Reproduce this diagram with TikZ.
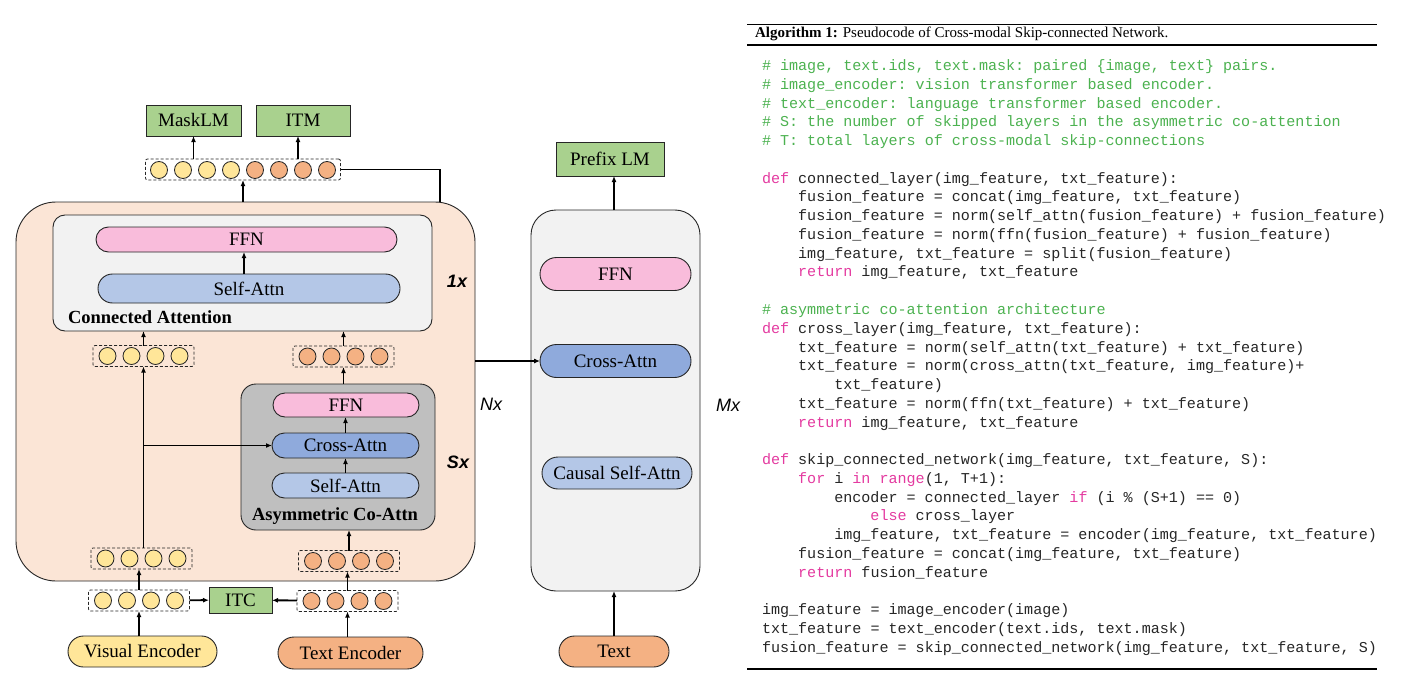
\documentclass[tikz,border=0pt]{standalone}
\usepackage{fontspec}
\setmainfont{Liberation Serif}
\setmonofont{Liberation Mono}
\newfontfamily\labelsans{Liberation Sans}
\usetikzlibrary{arrows.meta,shapes.misc}

\definecolor{peach}{HTML}{FBE5D6}
\definecolor{panel}{HTML}{F2F2F2}
\definecolor{coattn}{HTML}{BFBFBF}
\definecolor{ffnpink}{HTML}{F9BCDB}
\definecolor{selfblue}{HTML}{B4C7E7}
\definecolor{crossblue}{HTML}{8FAADC}
\definecolor{headgreen}{HTML}{A9D18E}
\definecolor{imgtok}{HTML}{FFE699}
\definecolor{txttok}{HTML}{F4B183}
\definecolor{edge}{HTML}{262626}
\definecolor{cmtgreen}{RGB}{76,178,80}
\definecolor{kwpink}{RGB}{228,58,160}

\newcommand{\kw}[1]{\textcolor{kwpink}{#1}}
\newcommand{\cmt}[1]{\textcolor{cmtgreen}{#1}}

\tikzset{
  every node/.style={inner sep=0pt, outer sep=0pt},
  lbl/.style={font=\fontsize{19}{22}\selectfont},
  boldlbl/.style={font=\fontsize{18.5}{22}\selectfont\bfseries},
  headbox/.style={draw=edge, line width=0.9pt, fill=headgreen, lbl},
  pill/.style={rounded rectangle, draw=edge, line width=0.9pt, lbl},
  panelbox/.style={draw=edge, line width=0.9pt},
  tokbox/.style={draw=edge, dashed, dash pattern=on 3pt off 2pt, line width=0.8pt, rounded corners=2pt},
  tok/.style={circle, draw=edge, line width=0.8pt, minimum size=17pt},
  repsans/.style={font={\fontsize{18}{20}\labelsans\bfseries\itshape}},
  repsansplain/.style={font={\fontsize{18}{20}\labelsans\itshape}},
  arr/.style={-{Latex[length=6pt,width=5pt]}, line width=1.9pt},
  tharr/.style={-{Latex[length=6pt,width=5pt]}, line width=1.1pt},
  link/.style={line width=1.1pt},
  code/.style={anchor=base west, font=\fontsize{15.07}{18}\ttfamily, text=black!85},
}

% a dashed group of four token circles: name, x, y, fill colour
\newcommand{\tokrow}[4]{%
  \node[tokbox, minimum width=101pt, minimum height=21pt] (#1) at (#2,#3) {};
  \foreach \k/\dx in {1/-36,2/-12,3/12,4/36}
    \node[tok, fill=#4] (#1-\k) at (#2+\dx,#3) {};
}
% one line of pseudocode: name, indent (characters), line number, text
\newcommand{\cl}[4]{\node[code] (#1) at ({762+9.04*#2},{70.5+18.77*#3}) {#4};}

\begin{document}
\begin{tikzpicture}[x=1pt,y=-1pt]
\fill[white] (0,0) rectangle (1401,677);
\useasboundingbox (0,0) rectangle (1401,677);

% ---------------- skip-connected encoder ----------------
\node[panelbox, fill=peach, rounded corners=40pt, minimum width=459pt, minimum height=379pt] (big) at (245.5,391.5) {};

\node[panelbox, fill=panel, rounded corners=12pt, minimum width=379pt, minimum height=116pt] (conn) at (242.5,273) {};
\node[pill, fill=ffnpink, minimum width=301pt, minimum height=25pt] (ffnA) at (246.5,239.5) {FFN};
\node[pill, fill=selfblue, minimum width=302pt, minimum height=29pt] (saA) at (249,288.5) {Self-Attn};
\node[boldlbl, anchor=west] (connlbl) at (68,317) {Connected Attention};
\node[repsans] (onex) at (457,281) {1x};

\node[panelbox, fill=coattn, rounded corners=15pt, minimum width=194pt, minimum height=146pt] (asym) at (338,457) {};
\node[pill, fill=ffnpink, minimum width=146pt, minimum height=24pt] (ffnB) at (346,405) {FFN};
\node[pill, fill=crossblue, minimum width=147pt, minimum height=25pt] (caB) at (345.5,445.5) {Cross-Attn};
\node[pill, fill=selfblue, minimum width=147pt, minimum height=25pt] (saB) at (345.5,485.5) {Self-Attn};
\node[boldlbl] (asymlbl) at (335,516) {Asymmetric Co-Attn};
\node[repsans] (sx) at (458,462) {Sx};
\node[repsansplain] (nx) at (491,404) {Nx};

% token groups
\node[tokbox, minimum width=195pt, minimum height=21pt] (toprow) at (243,169.5) {};
\foreach \k/\dx in {1/-84,2/-60,3/-36,4/-12}
  \node[tok, fill=imgtok] (toprow-\k) at (243+\dx,170) {};
\foreach \k/\dx in {5/12,6/36,7/60,8/84}
  \node[tok, fill=txttok] (toprow-\k) at (243+\dx,170) {};

\tokrow{lm}{143.5}{356}{imgtok}
\tokrow{rm}{343.5}{356.5}{txttok}
\tokrow{lb}{141.5}{558.5}{imgtok}
\tokrow{rb}{349}{561}{txttok}
\tokrow{lo}{139}{600.5}{imgtok}
\tokrow{ro}{347.5}{601}{txttok}

% heads and inputs
\node[headbox, minimum width=95pt, minimum height=31pt] (mask) at (193.5,120.5) {MaskLM};
\node[headbox, minimum width=94pt, minimum height=31pt] (itm) at (303,120.5) {ITM};
\node[headbox, minimum width=63pt, minimum height=26pt] (itc) at (240.5,600) {ITC};
\node[pill, fill=imgtok, minimum width=149pt, minimum height=31pt] (ve) at (142.5,651.5) {Visual Encoder};
\node[pill, fill=txttok, minimum width=145pt, minimum height=32pt] (te) at (350.5,653) {Text Encoder};

% ---------------- prefix LM decoder ----------------
\node[panelbox, fill=panel, rounded corners=25pt, minimum width=169pt, minimum height=381pt] (mx) at (615.5,400.5) {};
\node[pill, fill=ffnpink, minimum width=151pt, minimum height=33pt] (ffnC) at (615.5,274) {FFN};
\node[pill, fill=crossblue, minimum width=151pt, minimum height=33pt] (caC) at (615.5,361) {Cross-Attn};
\node[pill, fill=selfblue, minimum width=150pt, minimum height=32pt] (saC) at (617,473) {Causal Self-Attn};
\node[pill, fill=txttok, minimum width=110pt, minimum height=31pt] (text) at (614,651.5) {Text};
\node[headbox, minimum width=108pt, minimum height=34pt] (prefix) at (610,159) {Prefix LM};
\node[repsansplain] (mxl) at (728,405) {Mx};

% ---------------- connectors ----------------
\draw[arr] (ve.north -| lo) -- (lo.south);
\draw[arr] (te.north -| ro) -- (ro.south);
\draw[arr] (lo) -- (itc);
\draw[arr] (ro) -- (itc);
\draw[arr] (lo.north) -- (lo.north |- lb.south);
\draw[arr] (ro.north) -- (ro.north |- rb.south);
\draw[arr] (rb.north) -- (rb.north |- asym.south);
\draw[arr] (lb.north -| lm) -- (lm.south);
\draw[arr] (caB.west -| lm) -- (caB.west);
\draw[arr] (saB.north) -- (caB.south);
\draw[arr] (caB.north) -- (caB.north |- ffnB.south);
\draw[arr] (asym.north -| rm) -- (rm.south);
\draw[arr] (lm.north) -- (lm.north |- conn.south);
\draw[arr] (rm.north) -- (rm.north |- conn.south);
\draw[arr] ([xshift=-5pt]saA.north) -- ([xshift=-5pt]saA.north |- ffnA.south);
\draw[arr] (big.north -| toprow) -- (toprow.south);
\draw[arr] (toprow.north -| mask) -- (mask.south);
\draw[arr] ([xshift=-5pt]itm.south |- toprow.north) -- ([xshift=-5pt]itm.south);
\draw[link] (toprow.east) -| ([xshift=-35pt]big.north east);
\draw[tharr] (big.east |- caC.west) -- (caC.west);
\draw[arr] (text.north) -- (text.north |- mx.south);
\draw[arr] (mx.north -| text) -- (text |- prefix.south);

% ---------------- algorithm listing ----------------
\draw[line width=0.9pt] (747,24) -- (1377,24);
\node[anchor=base west, font=\fontsize{15}{18}\selectfont] (title) at (755,38)
  {\textbf{Algorithm 1:} Pseudocode of Cross-modal Skip-connected Network.};
\draw[line width=1.3pt] (747,45) -- (1377,45);

\cl{c0}{0}{0}{\cmt{\# image, text.ids, text.mask: paired \{image, text\} pairs.}}
\cl{c1}{0}{1}{\cmt{\# image\_encoder: vision transformer based encoder.}}
\cl{c2}{0}{2}{\cmt{\# text\_encoder: language transformer based encoder.}}
\cl{c3}{0}{3}{\cmt{\# S: the number of skipped layers in the asymmetric co-attention}}
\cl{c4}{0}{4}{\cmt{\# T: total layers of cross-modal skip-connections}}
\cl{c6}{0}{6}{\kw{def} connected\_layer(img\_feature, txt\_feature):}
\cl{c7}{4}{7}{fusion\_feature = concat(img\_feature, txt\_feature)}
\cl{c8}{4}{8}{fusion\_feature = norm(self\_attn(fusion\_feature) + fusion\_feature)}
\cl{c9}{4}{9}{fusion\_feature = norm(ffn(fusion\_feature) + fusion\_feature)}
\cl{c10}{4}{10}{img\_feature, txt\_feature = split(fusion\_feature)}
\cl{c11}{4}{11}{\kw{return} img\_feature, txt\_feature}
\cl{c13}{0}{13}{\cmt{\# asymmetric co-attention architecture}}
\cl{c14}{0}{14}{\kw{def} cross\_layer(img\_feature, txt\_feature):}
\cl{c15}{4}{15}{txt\_feature = norm(self\_attn(txt\_feature) + txt\_feature)}
\cl{c16}{4}{16}{txt\_feature = norm(cross\_attn(txt\_feature, img\_feature)+}
\cl{c17}{8}{17}{txt\_feature)}
\cl{c18}{4}{18}{txt\_feature = norm(ffn(txt\_feature) + txt\_feature)}
\cl{c19}{4}{19}{\kw{return} img\_feature, txt\_feature}
\cl{c21}{0}{21}{\kw{def} skip\_connected\_network(img\_feature, txt\_feature, S):}
\cl{c22}{4}{22}{\kw{for} i \kw{in} \kw{range}(1, T+1):}
\cl{c23}{8}{23}{encoder = connected\_layer \kw{if} (i \% (S+1) == 0)}
\cl{c24}{12}{24}{\kw{else} cross\_layer}
\cl{c25}{8}{25}{img\_feature, txt\_feature = encoder(img\_feature, txt\_feature)}
\cl{c26}{4}{26}{fusion\_feature = concat(img\_feature, txt\_feature)}
\cl{c27}{4}{27}{\kw{return} fusion\_feature}
\cl{c29}{0}{29}{img\_feature = image\_encoder(image)}
\cl{c30}{0}{30}{txt\_feature = text\_encoder(text.ids, text.mask)}
\cl{c31}{0}{31}{fusion\_feature = skip\_connected\_network(img\_feature, txt\_feature, S)}

\draw[line width=1.3pt] (747,669) -- (1377,669);
\end{tikzpicture}
\end{document}
